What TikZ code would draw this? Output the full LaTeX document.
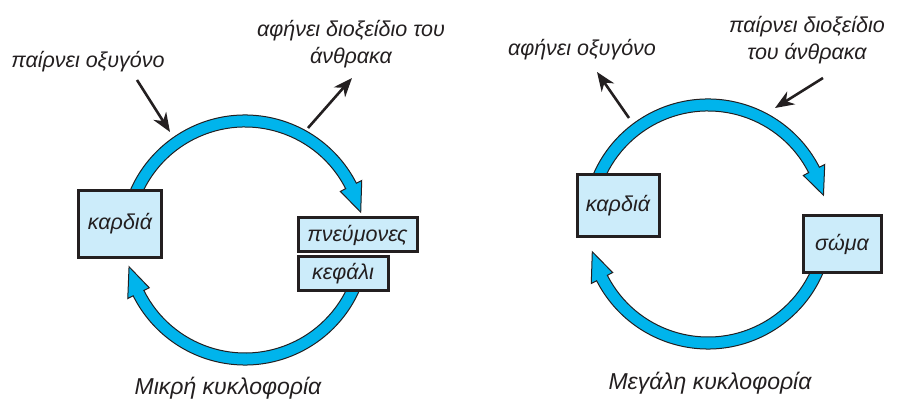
\documentclass[tikz,border=0pt]{standalone}
\usepackage{fontspec}
\setmainfont{Liberation Sans}
\usetikzlibrary{arrows.meta}
\definecolor{ringblue}{RGB}{0,180,236}
\definecolor{boxblue}{RGB}{204,236,250}
\definecolor{ink}{RGB}{35,31,32}
\newcommand{\circarrow}[4]{%
  \path[ringpath, shift={(#1)}] (#2:125pt) arc[start angle=#2, end angle=#3, radius=125pt]
    -- (#3:131pt) -- (#4:119pt) -- (#3:107pt) -- (#3:113pt)
    arc[start angle=#3, end angle=#2, radius=113pt] -- cycle;}
\begin{document}
\begin{tikzpicture}[x=1pt,y=1pt,
  font=\itshape\fontsize{21.5}{27}\selectfont,
  ringpath/.style={fill=ringblue, draw=ink, line width=1pt},
  organ/.style={draw=ink, line width=3pt, fill=boxblue, inner sep=0pt, text=ink},
  gasarrow/.style={draw=ink, line width=2.6pt, -{Stealth[length=19pt,width=15pt,inset=6pt]}},
  lbl/.style={text=ink, align=center, inner sep=0pt},
  caption/.style={text=ink, inner sep=0pt, font=\itshape\fontsize{23}{27}\selectfont}]
\useasboundingbox (0,0) rectangle (900,403);
\coordinate (cL) at (245,163);
\coordinate (cR) at (708,179);
% rings
\circarrow{cL}{170}{27}{13.5}
\circarrow{cL}{-15}{-153.5}{-167}
\circarrow{cR}{162}{27}{14}
\circarrow{cR}{-15}{-153}{-166.5}
% organ boxes
\node[organ, minimum width=83pt, minimum height=67pt] (heartL) at (120,179) {καρδιά};
\node[organ, minimum width=119pt, minimum height=34pt] (lungs) at (357.5,168) {πνεύμονες};
\node[organ, minimum width=90pt, minimum height=34pt] (head) at (343,129) {κεφάλι};
\node[organ, minimum width=82pt, minimum height=62pt] (heartR) at (618,197) {καρδιά};
\node[organ, minimum width=78pt, minimum height=57pt] (body) at (842,158.5) {σώμα};
% labels
\node[lbl] (o2in) at (88,341) {παίρνει οξυγόνο};
\node[lbl] (co2out) at (351,358.5) {αφήνει διοξείδιο του\\άνθρακα};
\node[lbl] (o2out) at (582,353) {αφήνει οξυγόνο};
\node[lbl] (co2in) at (807,363) {παίρνει διοξείδιο\\του άνθρακα};
\node[caption] (small) at (228,15) {Μικρή κυκλοφορία};
\node[caption] (big) at (710,20) {Μεγάλη κυκλοφορία};
% gas arrows
\coordinate (a1s) at (137,323); \coordinate (a1e) at (170,271);
\coordinate (a2s) at (308,275); \coordinate (a2e) at (352,325);
\coordinate (a3s) at (629,285); \coordinate (a3e) at (597,331);
\coordinate (a4s) at (823,325); \coordinate (a4e) at (775,295);
\draw[gasarrow] (a1s) -- (a1e);
\draw[gasarrow] (a2s) -- (a2e);
\draw[gasarrow] (a3s) -- (a3e);
\draw[gasarrow] (a4s) -- (a4e);
\end{tikzpicture}
\end{document}
